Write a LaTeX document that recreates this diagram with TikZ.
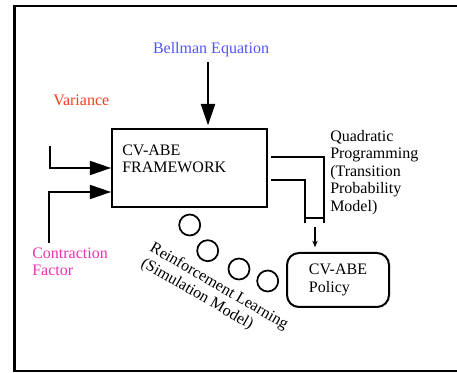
\documentclass[tikz,border=0pt]{standalone}
\usepackage{fontspec}
\setmainfont{Liberation Serif}
\usetikzlibrary{arrows.meta,positioning,calc}
\definecolor{bellblue}{RGB}{84,84,255}
\definecolor{varred}{RGB}{240,64,32}
\definecolor{cfpink}{RGB}{240,48,176}
\tikzset{
  thickline/.style={line width=1.3pt},
  bigflow/.style={-{Triangle[length=16pt,width=10.5pt]},line width=1.5pt},
  thinflow/.style={-{Stealth[length=5pt,width=4pt]},line width=0.8pt},
  mainbox/.style={draw,line width=1.5pt,minimum width=116pt,minimum height=58.5pt,inner sep=0pt},
  polbox/.style={draw,line width=1.5pt,rounded corners=9pt,
                 minimum width=76.5pt,minimum height=40.5pt,align=left},
  lbl/.style={inner sep=0pt,align=left},
  simcircle/.style={draw,circle,line width=1.3pt,minimum size=15.75pt,inner sep=0pt}
}

\begin{document}
\begin{tikzpicture}[x=0.75pt,y=-0.75pt,font=\fontsize{12pt}{13.2pt}\selectfont]
  \useasboundingbox (0,0) rectangle (457,373);
  % outer frame
  \draw[line width=1.7pt] (460,6) -- (14.5,6) -- (14.5,371) -- (460,371);
  % framework box
  \node[mainbox] (fw) at (189.5,168) {};
  \node[lbl,anchor=base west] (fwtxt) at (122,173) {CV-ABE\\FRAMEWORK};
  % inputs
  \node[lbl,anchor=base,text=bellblue] (bell) at (211,54) {Bellman Equation};
  \node[lbl,anchor=base west,text=varred] (var) at (53,106) {Variance};
  \node[lbl,anchor=base west,text=cfpink] (cf) at (32,276) {Contraction\\Factor};
  \coordinate (in1) at (50,146);
  \coordinate (in2) at (49,243);
  \draw[bigflow,shorten >=2pt] ([xshift=-2.25pt,yshift=-3.5pt]bell.south) -- ([xshift=-2.25pt]bell.south |- fw.north);
  \draw[bigflow] (in1) |- (fw.west);
  \draw[bigflow] (in2) |- ([yshift=-18pt]fw.west);
  % outputs
  \node[lbl,anchor=base west] (qp) at (330,211.5) {Quadratic\\Programming\\(Transition\\Probability\\Model)};
  \node[polbox] (pol) at (338,280) {CV-ABE\\Policy};
  \coordinate (qr) at (324,223);
  \coordinate (ql) at (305,223);
  \coordinate (qout) at (315,227);
  \draw[thickline] ([xshift=2.25pt,yshift=8.25pt]fw.east) -| (qr);
  \draw[thickline] ([xshift=2.25pt,yshift=-9pt]fw.east) -| (ql);
  \draw[thickline] ([yshift=3.75pt]ql) -- ([yshift=3.75pt]qr);
  \draw[thinflow,shorten >=3.5pt] (qout) -- (qout |- pol.north);
  % simulation loop
  \node[simcircle] (c1) at (189.7,225) {};
  \node[simcircle] (c2) at (207.7,250.7) {};
  \node[simcircle] (c3) at (239,269) {};
  \node[simcircle] (c4) at (267.7,281) {};
  \node[lbl,anchor=base west,rotate=-30] (rl) at (140,266) {Reinforcement Learning\\(Simulation Model)};
\end{tikzpicture}
\end{document}
